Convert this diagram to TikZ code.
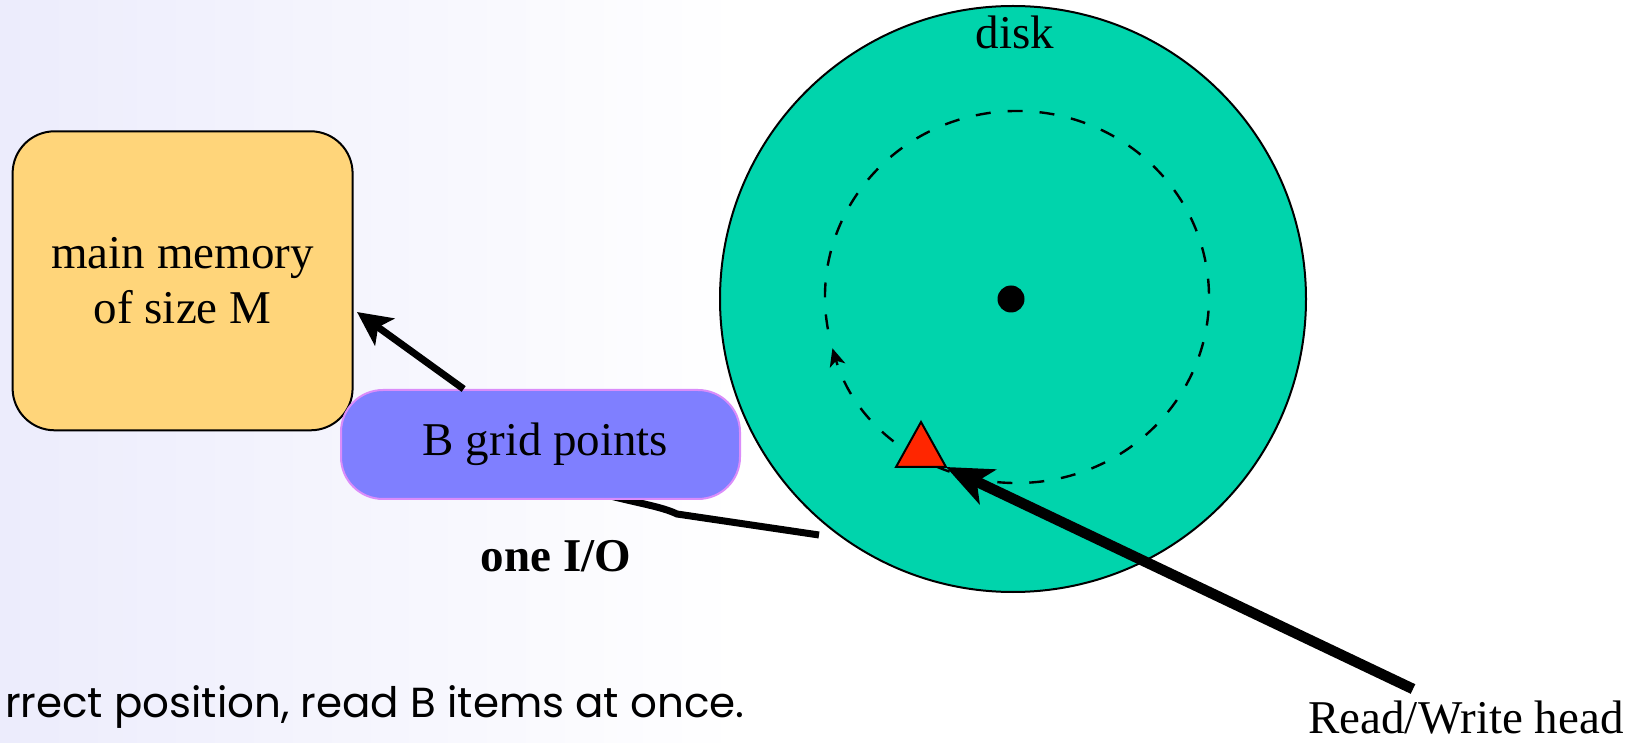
\documentclass[tikz,border=0pt]{standalone}
\usepackage{fontspec}
\setmainfont{Liberation Serif}
\newfontfamily\comicfont{Poppins}
\usetikzlibrary{arrows.meta,calc}
\definecolor{memyellow}{RGB}{255,213,122}
\definecolor{gridblue}{RGB}{127,127,255}
\definecolor{gridborder}{RGB}{218,140,250}
\definecolor{diskgreen}{RGB}{0,212,172}
\definecolor{headred}{RGB}{255,38,0}
\definecolor{bglav}{RGB}{236,236,252}
\tikzset{
  txt/.style={font=\fontsize{23.5pt}{27.5pt}\selectfont, inner sep=0pt},
  membox/.style={draw=black, line width=1pt, fill=memyellow, rounded corners=21pt,
    minimum width=170pt, minimum height=149.5pt, align=center, txt},
  gridbox/.style={draw=gridborder, line width=1pt, fill=gridblue, rounded corners=21pt,
    minimum width=199.5pt, minimum height=54.5pt, txt},
  diskshape/.style={circle, draw=black, line width=1pt, fill=diskgreen, minimum size=293pt, inner sep=0pt},
  spindle/.style={circle, fill=black, minimum size=13.5pt, inner sep=0pt},
  track/.style={draw=black, line width=1.2pt, dash pattern=on 7.5pt off 8.5pt,
    -{Stealth[length=9pt,width=8pt,inset=2.5pt]}},
  memarrow/.style={draw=black, line width=3.5pt, -{Stealth[length=17pt,width=16.5pt,inset=4pt]}},
  headarrow/.style={draw=black, line width=5.3pt, -{Stealth[length=23pt,width=19pt,inset=6pt]}},
  iolink/.style={draw=black, line width=3.5pt},
  headshape/.style={draw=black, line width=1pt, fill=headred, line join=miter}
}
\begin{document}
\begin{tikzpicture}[x=0.5pt,y=-0.5pt]
\useasboundingbox (0,0) rectangle (1646,743);
\clip (0,0) rectangle (1646,743);
\fill[white] (0,0) rectangle (1646,743);
\shade[left color=bglav, right color=white] (0,0) rectangle (740,743);

% main memory
\node[membox] (mem) at (182.6,280.8) {main memory\\of size M};

% I/O link (behind the grid box)
\coordinate (ioA) at (595,492);
\coordinate (ioB) at (819,535);
\draw[iolink] (ioA) .. controls (640,504) and (660,506) .. (677,514) -- (ioB);

% B grid points
\node[gridbox] (grid) at (540.5,444.5) {\hspace*{5pt}B grid points};
\coordinate (memtip) at (357,312);
\draw[memarrow] (grid) -- (memtip);

\node[txt, font=\fontsize{23.5pt}{27.5pt}\selectfont\bfseries, anchor=base] (io) at (556,572) {one I/O};

% disk
\node[diskshape] (disk) at (1013,299) {};
\node[txt, anchor=base] (disklabel) at (1015,49) {disk};
\node[spindle] (spin) at (1011,299) {};
\coordinate (trackc) at (1017,297);
\draw[track] (trackc) ++(170:192 and 186) arc[start angle=170, end angle=524, x radius=192, y radius=186];

% read/write head
\coordinate (hTop) at (921,422);
\coordinate (hBL) at (896,467);
\coordinate (hBR) at (946,467);
\draw[headshape] (hTop) -- (hBL) -- (hBR) -- cycle;
\coordinate (rwtail) at (1413,689);
\draw[headarrow] (rwtail) -- (hBR);
\node[txt, anchor=base] (rwlabel) at (1466,733) {Read/Write head};

% bottom caption (cut at the left edge)
\node[inner sep=0pt, anchor=base east, font=\comicfont\fontsize{21pt}{24pt}\selectfont] (caption) at (745,717) {rrect position, read B items at once.};
\end{tikzpicture}
\end{document}
